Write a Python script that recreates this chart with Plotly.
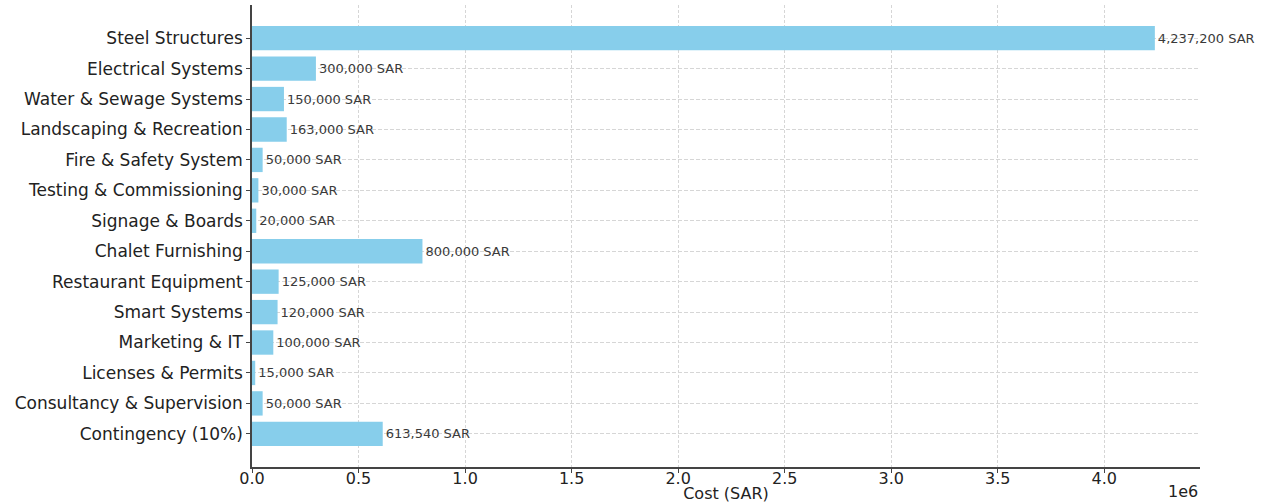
import plotly.graph_objects as go

# Project cost items (SAR), listed top to bottom
categories = [
    "Steel Structures",
    "Electrical Systems",
    "Water & Sewage Systems",
    "Landscaping & Recreation",
    "Fire & Safety System",
    "Testing & Commissioning",
    "Signage & Boards",
    "Chalet Furnishing",
    "Restaurant Equipment",
    "Smart Systems",
    "Marketing & IT",
    "Licenses & Permits",
    "Consultancy & Supervision",
    "Contingency (10%)",
]
costs = [
    4237200, 300000, 150000, 163000, 50000, 30000, 20000,
    800000, 125000, 120000, 100000, 15000, 50000, 613540,
]

x_tick_values = [0, 500000, 1000000, 1500000, 2000000, 2500000, 3000000, 3500000, 4000000]
x_tick_labels = ["0.0", "0.5", "1.0", "1.5", "2.0", "2.5", "3.0", "3.5", "4.0"]

FONT = "DejaVu Sans"
BAR_COLOR = "#87CEEB"
GRID = "#d6d6d6"
x_max = max(costs) * 1.05
n = len(categories)

fig = go.Figure(
    go.Bar(
        x=costs,
        y=categories,
        orientation="h",
        width=0.8,
        marker=dict(color=BAR_COLOR, line=dict(width=0)),
        texttemplate="%{x:,.0f} SAR",
        textposition="outside",
        constraintext="none",
        cliponaxis=False,
        textfont=dict(family=FONT, size=13, color="#3a3a3a"),
        hoverinfo="skip",
    )
)

fig.update_layout(
    width=1273,
    height=503,
    margin=dict(l=252, r=73, t=5, b=36, autoexpand=False),
    paper_bgcolor="white",
    plot_bgcolor="white",
    showlegend=False,
    title=dict(
        text="Cost Breakdown of the Chalet Resort Project (SAR)",
        font=dict(family=FONT, size=18, color="#111111"),
        x=(252 + 1200) / 2 / 1273,
        xanchor="center",
        xref="container",
        yref="container",
        y=1,
        yanchor="bottom",
        pad=dict(b=6),
    ),
    xaxis=dict(
        range=[0, x_max],
        tickvals=x_tick_values,
        ticktext=x_tick_labels,
        tickfont=dict(family=FONT, size=16, color="#222222"),
        ticks="outside",
        ticklen=4,
        tickwidth=1,
        tickcolor="#444444",
        ticklabelstandoff=-8,
        showline=True,
        linecolor="#444444",
        linewidth=1.6,
        showgrid=True,
        gridcolor=GRID,
        griddash="3px,2px",
        gridwidth=1,
        zeroline=False,
        automargin=False,
        title=dict(
            text="Cost (SAR)",
            font=dict(family=FONT, size=16, color="#222222"),
            standoff=0,
        ),
    ),
    yaxis=dict(
        type="category",
        categoryorder="array",
        categoryarray=categories,
        range=[n - 1 + 1.09, -1.09],
        tickfont=dict(family=FONT, size=17, color="#222222"),
        ticks="outside",
        ticklen=4,
        tickwidth=1,
        tickcolor="#444444",
        showline=True,
        linecolor="#444444",
        linewidth=1.6,
        showgrid=True,
        gridcolor=GRID,
        griddash="4px,2px",
        gridwidth=1,
        zeroline=False,
        automargin=False,
    ),
    annotations=[
        dict(
            text="1e6",
            xref="paper",
            yref="paper",
            x=1,
            y=-25 / 462,
            xanchor="right",
            yanchor="middle",
            showarrow=False,
            font=dict(family=FONT, size=16, color="#222222"),
        )
    ],
)

fig.write_html("out.html")
